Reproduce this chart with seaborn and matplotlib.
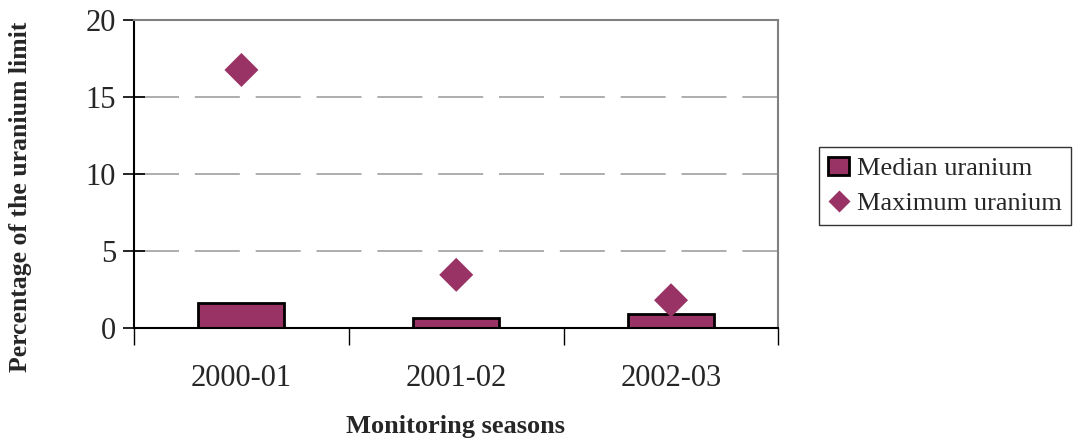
import matplotlib
matplotlib.use("Agg")
import numpy as np
import pandas as pd
import matplotlib.pyplot as plt
import seaborn as sns
from matplotlib.lines import Line2D
from matplotlib.patches import Patch

seasons = ["2000-01", "2001-02", "2002-03"]
median_uranium = [1.65, 0.65, 0.9]
maximum_uranium = [16.75, 3.45, 1.8]

df = pd.DataFrame({
    "season": seasons,
    "median": median_uranium,
    "maximum": maximum_uranium,
})

plum = "#993366"

sns.set_style("white")
plt.rcParams["font.family"] = ["Liberation Serif", "DejaVu Serif"]

fig = plt.figure(figsize=(10.74, 4.42), dpi=100)
ax = fig.add_axes([0.1248, 0.258, 0.6, 0.697])

sns.barplot(data=df, x="season", y="median", color=plum, width=0.4,
            edgecolor="black", linewidth=2, saturation=1, ax=ax)
sns.scatterplot(data=df, x="season", y="maximum", color=plum, marker="D",
                s=300, edgecolor="none", zorder=5, ax=ax)

ax.set_xlim(-0.5, 2.5)
ax.set_ylim(0, 20)
ax.set_yticks([0, 5, 10, 15, 20])

# dashed grid lines at 5, 10, 15
for yv in [5, 10, 15]:
    ax.axhline(yv, color="#a0a0a0", lw=1.2, dashes=(27, 9.5), zorder=0)

ax.tick_params(axis="y", which="major", direction="inout", length=16, width=1.2,
               color="black", labelsize=22, pad=5, left=True)
ax.tick_params(axis="x", which="major", length=0, labelsize=22, pad=26)
ax.set_xticks([-0.5, 0.5, 1.5, 2.5], minor=True)
ax.tick_params(axis="x", which="minor", direction="out", length=12, width=1,
               color="black", bottom=True)

for s in ["left", "bottom"]:
    ax.spines[s].set_color("black")
    ax.spines[s].set_linewidth(1.5)
for s in ["top", "right"]:
    ax.spines[s].set_color("#808080")
    ax.spines[s].set_linewidth(1.5)

ax.set_xlabel("")
ax.set_ylabel("")
fig.text(0.424, 0.035, "Monitoring seasons", fontsize=19, fontweight="bold",
         ha="center", va="center")
fig.text(0.019, 0.555, "Percentage of the uranium limit", fontsize=18.5,
         fontweight="bold", rotation=90, ha="center", va="center")

handles = [
    Patch(facecolor=plum, edgecolor="black", linewidth=2, label="Median uranium"),
    Line2D([], [], marker="D", color="none", markerfacecolor=plum,
           markeredgecolor="none", markersize=11, label="Maximum uranium"),
]
fig.legend(handles=handles, loc="center", bbox_to_anchor=(0.88, 0.579),
           frameon=True, fancybox=False, edgecolor="black", fontsize=19,
           handlelength=0.8, handletextpad=0.3, borderpad=0.35, labelspacing=0.45)

fig.savefig("out.png", dpi=100)
